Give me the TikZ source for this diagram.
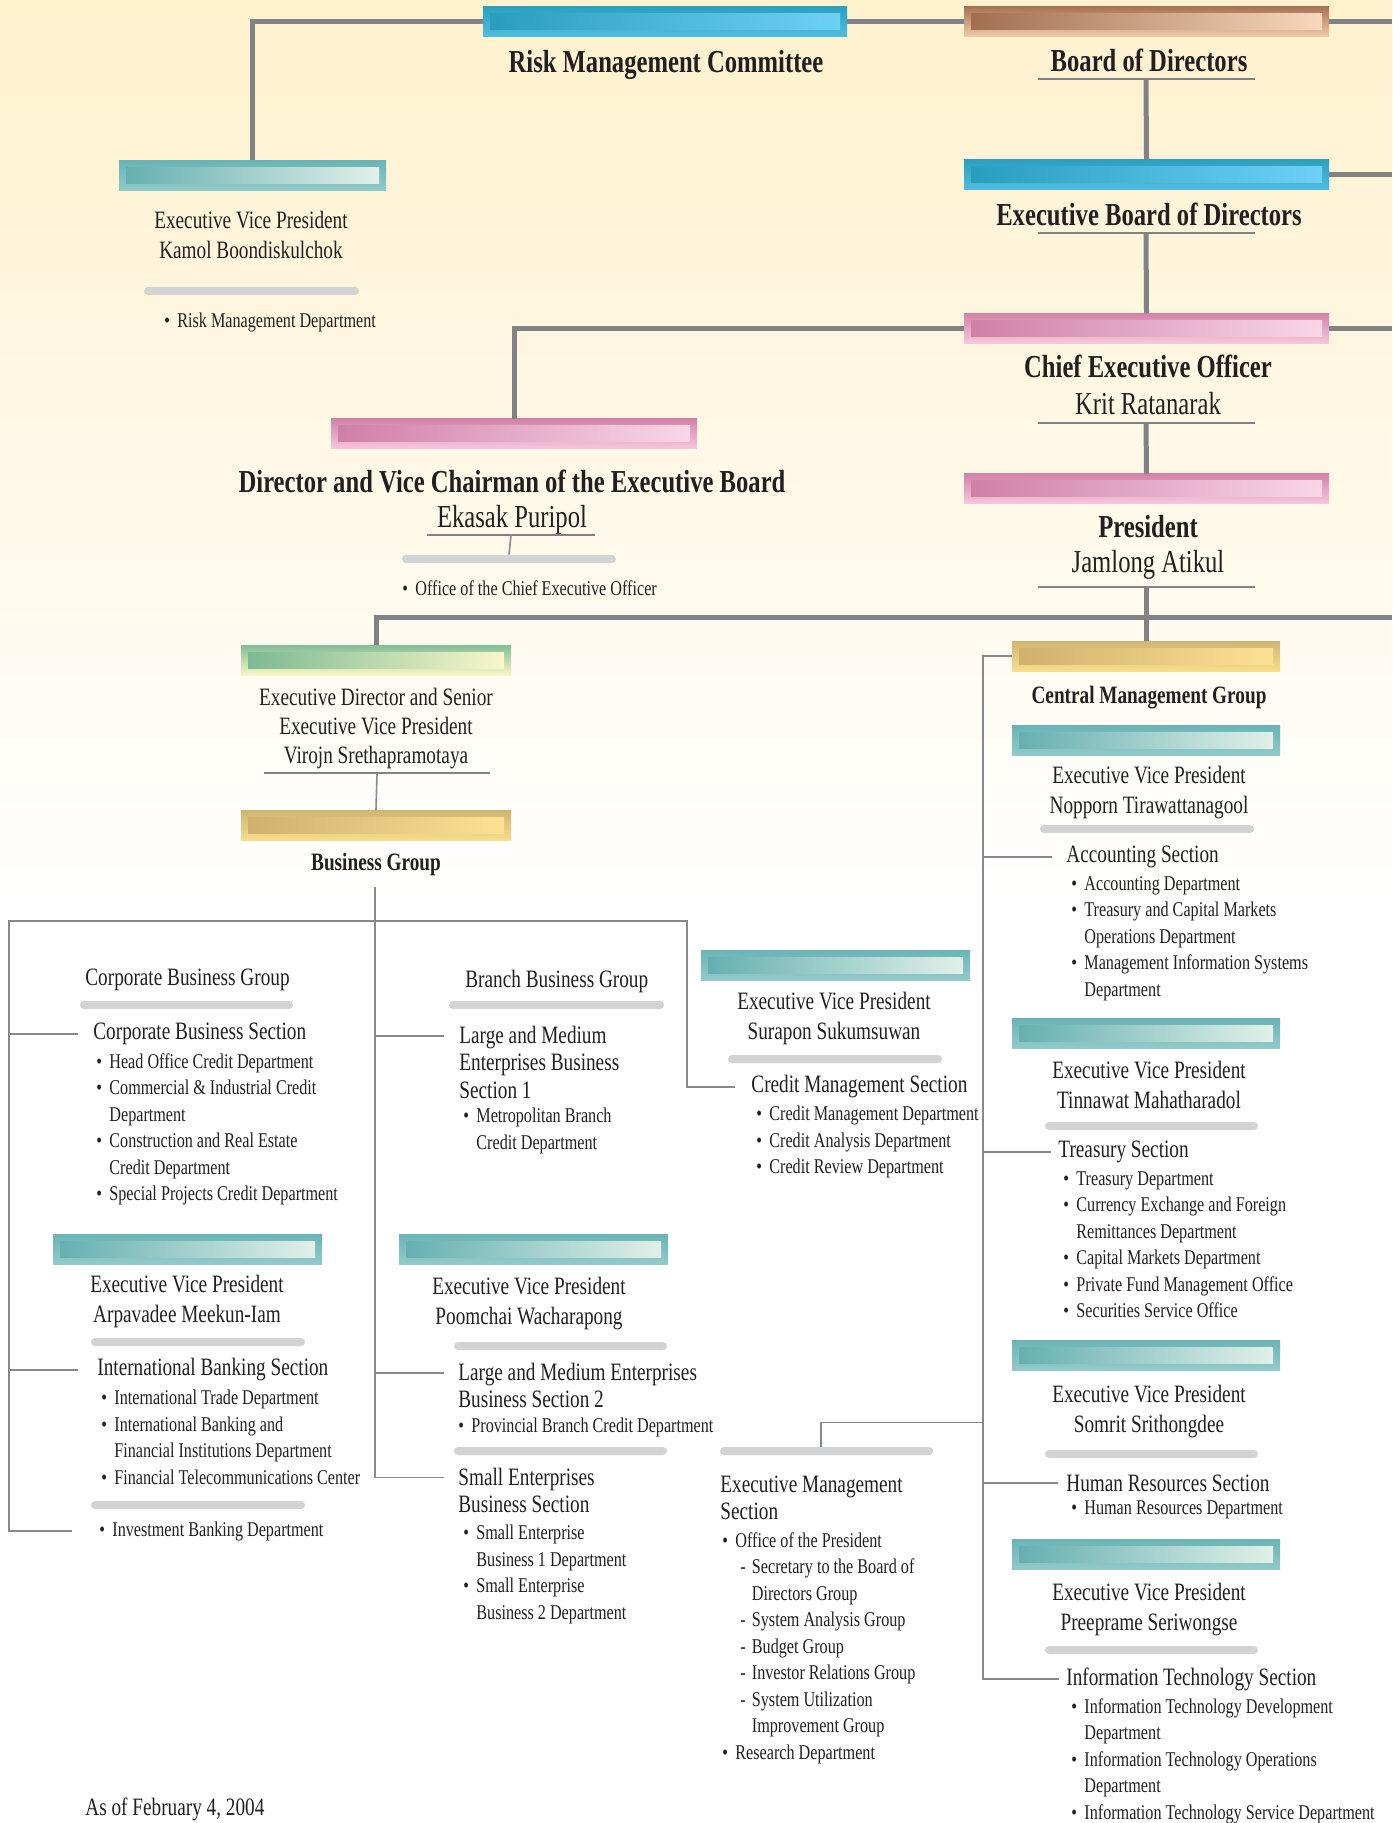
\documentclass[tikz,border=0pt]{standalone}
\usepackage{fontspec}
\setmainfont{Liberation Serif}[FakeStretch=0.77]
\definecolor{bgtop}{RGB}{254,241,205}
\definecolor{inkc}{RGB}{35,31,32}
\definecolor{lineg}{RGB}{128,130,133}
\definecolor{thing}{RGB}{135,137,140}
\definecolor{barg}{RGB}{209,211,212}
\definecolor{blueA}{RGB}{44,160,192}\definecolor{blueB}{RGB}{80,188,224}
\definecolor{blueC}{RGB}{40,156,190}\definecolor{blueD}{RGB}{110,210,246}
\definecolor{brA}{RGB}{168,116,84}\definecolor{brB}{RGB}{242,204,170}
\definecolor{brC}{RGB}{160,108,78}\definecolor{brD}{RGB}{248,218,190}
\definecolor{pkA}{RGB}{212,130,168}\definecolor{pkB}{RGB}{246,200,222}
\definecolor{pkC}{RGB}{206,126,164}\definecolor{pkD}{RGB}{249,216,232}
\definecolor{grA}{RGB}{130,190,150}\definecolor{grB}{RGB}{250,246,196}
\definecolor{grC}{RGB}{122,184,144}\definecolor{grD}{RGB}{252,248,204}
\definecolor{gdA}{RGB}{208,180,112}\definecolor{gdB}{RGB}{247,222,140}
\definecolor{gdC}{RGB}{206,176,108}\definecolor{gdD}{RGB}{254,226,148}
\definecolor{tlA}{RGB}{106,180,182}\definecolor{tlB}{RGB}{146,202,202}
\definecolor{tlC}{RGB}{98,174,176}\definecolor{tlD}{RGB}{228,242,233}
\newcommand{\orgbul}{\makebox[6.5pt][l]{\textbullet}}
\newcommand{\orgind}{\makebox[6.5pt]{}}
\newcommand{\orgdash}{\makebox[9pt]{}\makebox[5.75pt][l]{-}}
\newcommand{\orgdind}{\makebox[14.75pt]{}}
\tikzset{
  mainline/.style={draw=lineg, line width=2.5pt},
  thinline/.style={draw=thing, line width=0.8pt},
  colbar/.style n args={4}{inner sep=0pt, minimum height=15pt, top color=#1, bottom color=#2,
    path picture={\shade[left color=#3, right color=#4]
      ([xshift=3.5pt,yshift=-3.5pt]path picture bounding box.north west) rectangle
      ([xshift=-3.5pt,yshift=3.5pt]path picture bounding box.south east);}},
  bluebar/.style={colbar={blueA}{blueB}{blueC}{blueD}, minimum width=182pt},
  brownbar/.style={colbar={brA}{brB}{brC}{brD}, minimum width=182.5pt},
  pinkbar/.style={colbar={pkA}{pkB}{pkC}{pkD}, minimum width=182.5pt},
  greenbar/.style={colbar={grA}{grB}{grC}{grD}, minimum width=135pt},
  goldbar/.style={colbar={gdA}{gdB}{gdC}{gdD}, minimum width=135pt},
  tealbar/.style={colbar={tlA}{tlB}{tlC}{tlD}, minimum width=134.5pt},
  graybar/.style={fill=barg, rounded corners=2pt, minimum height=4pt, inner sep=0pt},
  uline/.style={fill=lineg, minimum height=1pt, minimum width=108.5pt, inner sep=0pt},
  txtbase/.style={inner sep=0pt, text=inkc},
  titletext/.style={txtbase, font=\fontsize{16}{19}\selectfont\bfseries},
  nametext/.style={txtbase, font=\fontsize{16}{19}\selectfont},
  grouptext/.style={txtbase, font=\fontsize{12.5}{15}\selectfont\bfseries},
  evptext/.style={txtbase, align=center, font=\fontsize{12.5}{15}\selectfont},
  sectext/.style={txtbase, align=left, font=\fontsize{12.5}{13.75}\selectfont},
  depttext/.style={txtbase, align=left, font=\fontsize{10.5}{13.25}\selectfont}
}
\begin{document}
\begin{tikzpicture}[x=0.5pt,y=-0.5pt]
  \useasboundingbox (0,0) rectangle (1392,1823);
  \fill[white] (0,0) rectangle (1392,1823);
  \shade[top color=bgtop, bottom color=white] (0,0) rectangle (1392,900);
  \coordinate (redge) at (1392,0);
  \coordinate (bus) at (1392,617);
  \coordinate (rail) at (983,0);
  \coordinate (bgtop) at (375,887);
  \coordinate (bgl) at (9,921);
  \coordinate (bgr) at (687,921);

  % board level
  \node[bluebar] (riskbar) at (665,22) {};
  \node[brownbar] (boardbar) at (1146.5,22) {};
  \node[titletext] (risktitle) at (666,65) {Risk Management Committee};
  \node[titletext] (boardtitle) at (1149,60) {Board of Directors};
  \node[uline] (boardul) at (1146,79) {};
  \node[bluebar, minimum width=182.5pt] (ebbar) at (1146.5,175) {};
  \node[titletext] (ebtitle) at (1149,214) {Executive Board of Directors};
  \node[uline] (ebul) at (1146,233) {};
  \node[pinkbar] (ceobar) at (1146.5,328.5) {};
  \node[titletext] (ceotitle) at (1148,366) {Chief Executive Officer};
  \node[nametext] (ceoname) at (1148,404) {Krit Ratanarak};
  \node[uline] (ceoul) at (1146,423) {};
  \node[pinkbar] (presbar) at (1146.5,489) {};
  \node[titletext] (prestitle) at (1148,527) {President};
  \node[nametext] (presname) at (1148,565) {Jamlong Atikul};
  \node[uline] (presul) at (1146,587) {};

  % risk management
  \node[tealbar, minimum width=133.5pt] (kamolbar) at (252.5,175.5) {};
  \node[evptext] (kamoltext) at (251,235) {Executive Vice President\\Kamol Boondiskulchok};
  \node[graybar, minimum width=107.5pt] (kamolgb) at (251.5,291) {};
  \node[depttext, anchor=west] (riskdept) at (164,322) {\orgbul Risk Management Department};

  % vice chairman
  \node[pinkbar, minimum width=183pt] (dvcbar) at (514,434) {};
  \node[titletext] (dvctitle) at (512,481) {Director and Vice Chairman of the Executive Board};
  \node[nametext] (dvcname) at (512,520) {Ekasak Puripol};
  \node[uline, minimum width=84pt] (dvcul) at (511,535) {};
  \node[graybar, minimum width=107pt] (dvcgb) at (509,559) {};
  \node[depttext, anchor=west] (ceooffice) at (402,588) {\orgbul Office of the Chief Executive Officer};

  % business group
  \node[greenbar] (edbar) at (376,660) {};
  \node[evptext, font=\fontsize{12.5}{14.5}\selectfont] (edtext) at (376,729)
    {Executive Director and Senior\\Executive Vice President\\Virojn Srethapramotaya};
  \node[uline, minimum width=113pt] (edul) at (377,773) {};
  \node[goldbar] (bgbar) at (376,825.5) {};
  \node[grouptext] (bgtitle) at (376,864) {Business Group};

  \node[sectext, anchor=west] (cbgroup) at (85,980) {Corporate Business Group};
  \node[graybar, minimum width=106.5pt] (cbgb) at (186.5,1005) {};
  \node[sectext, anchor=west] (cbsec) at (93,1034) {Corporate Business Section};
  \node[depttext, anchor=north west] (cbdept) at (96,1053)
    {\orgbul Head Office Credit Department\\\orgbul Commercial \& Industrial Credit\\\orgind Department\\
     \orgbul Construction and Real Estate\\\orgind Credit Department\\\orgbul Special Projects Credit Department};
  \node[tealbar] (arpbar) at (187.5,1249) {};
  \node[evptext] (arptext) at (187,1301) {Executive Vice President\\Arpavadee Meekun-Iam};
  \node[graybar, minimum width=107pt] (arpgb) at (198,1342) {};
  \node[sectext, anchor=west] (ibsec) at (97,1370) {International Banking Section};
  \node[depttext, anchor=north west] (ibdept) at (101,1390)
    {\orgbul International Trade Department\\\orgbul International Banking and\\
     \orgind Financial Institutions Department\\\orgbul Financial Telecommunications Center};
  \node[graybar, minimum width=107pt] (arpgb2) at (198,1505) {};
  \node[depttext, anchor=west] (invdept) at (99,1531) {\orgbul Investment Banking Department};

  \node[sectext, anchor=west] (bbgroup) at (465,981) {Branch Business Group};
  \node[graybar, minimum width=107.5pt] (bbgb) at (556.5,1005) {};
  \node[sectext, anchor=north west] (lmeone) at (459,1025.5)
    {Large and Medium\\Enterprises Business\\Section 1};
  \node[depttext, anchor=north west] (lmeonedept) at (463,1108)
    {\orgbul Metropolitan Branch\\\orgind Credit Department};
  \node[tealbar] (poombar) at (533.5,1249) {};
  \node[evptext] (poomtext) at (529,1304) {Executive Vice President\\Poomchai Wacharapong};
  \node[graybar, minimum width=106.5pt] (poomgb) at (560.5,1346) {};
  \node[sectext, anchor=north west] (lmetwo) at (458,1362.5)
    {Large and Medium Enterprises\\Business Section 2};
  \node[depttext, anchor=west] (lmetwodept) at (458,1427) {\orgbul Provincial Branch Credit Department};
  \node[graybar, minimum width=106.5pt] (poomgb2) at (560.5,1451) {};
  \node[sectext, anchor=north west] (smesec) at (458,1467.5)
    {Small Enterprises\\Business Section};
  \node[depttext, anchor=north west] (smedept) at (463,1525)
    {\orgbul Small Enterprise\\\orgind Business 1 Department\\\orgbul Small Enterprise\\\orgind Business 2 Department};

  \node[tealbar] (surbar) at (835.5,965) {};
  \node[evptext] (surtext) at (834,1018.5) {Executive Vice President\\Surapon Sukumsuwan};
  \node[graybar, minimum width=107pt] (surgb) at (835,1059) {};
  \node[sectext, anchor=west] (cmsec) at (751,1087) {Credit Management Section};
  \node[depttext, anchor=north west] (cmdept) at (756,1106)
    {\orgbul Credit Management Department\\\orgbul Credit Analysis Department\\\orgbul Credit Review Department};

  % executive management
  \node[graybar, minimum width=106.5pt] (emgb) at (826.5,1451) {};
  \node[sectext, anchor=north west] (emsec) at (720,1475.5) {Executive Management\\Section};
  \node[depttext, anchor=north west] (emdept) at (722,1532)
    {\orgbul Office of the President\\\orgdash Secretary to the Board of\\\orgdind Directors Group\\
     \orgdash System Analysis Group\\\orgdash Budget Group\\\orgdash Investor Relations Group\\
     \orgdash System Utilization\\\orgdind Improvement Group\\\orgbul Research Department};

  % central management group
  \node[goldbar, minimum width=134pt] (cmgbar) at (1146,656) {};
  \node[grouptext] (cmgtitle) at (1149,698) {Central Management Group};
  \node[tealbar, minimum width=134pt] (nopbar) at (1146,740.5) {};
  \node[evptext] (noptext) at (1149,792.5) {Executive Vice President\\Nopporn Tirawattanagool};
  \node[graybar, minimum width=107pt] (nopgb) at (1147,829) {};
  \node[sectext, anchor=west] (accsec) at (1066,857) {Accounting Section};
  \node[depttext, anchor=north west] (accdept) at (1071,876)
    {\orgbul Accounting Department\\\orgbul Treasury and Capital Markets\\\orgind Operations Department\\
     \orgbul Management Information Systems\\\orgind Department};
  \node[tealbar, minimum width=134pt] (tinbar) at (1146,1033.5) {};
  \node[evptext] (tintext) at (1149,1084.5) {Executive Vice President\\Tinnawat Mahatharadol};
  \node[graybar, minimum width=106.5pt] (tingb) at (1151.5,1126) {};
  \node[sectext, anchor=west] (trsec) at (1058,1152) {Treasury Section};
  \node[depttext, anchor=north west] (trdept) at (1063,1171)
    {\orgbul Treasury Department\\\orgbul Currency Exchange and Foreign\\\orgind Remittances Department\\
     \orgbul Capital Markets Department\\\orgbul Private Fund Management Office\\\orgbul Securities Service Office};
  \node[tealbar, minimum width=134pt] (sombar) at (1146,1355) {};
  \node[evptext] (somtext) at (1149,1411.5) {Executive Vice President\\Somrit Srithongdee};
  \node[graybar, minimum width=106.5pt] (somgb) at (1151.5,1454) {};
  \node[sectext, anchor=west] (hrsec) at (1066,1483) {Human Resources Section};
  \node[depttext, anchor=west] (hrdept) at (1071,1510) {\orgbul Human Resources Department};
  \node[tealbar, minimum width=134pt] (prebar) at (1146,1554.5) {};
  \node[evptext] (pretext) at (1149,1609.5) {Executive Vice President\\Preeprame Seriwongse};
  \node[graybar, minimum width=106.5pt] (pregb) at (1151.5,1650) {};
  \node[sectext, anchor=west] (itsec) at (1066,1679) {Information Technology Section};
  \node[depttext, anchor=north west] (itdept) at (1071,1698)
    {\orgbul Information Technology Development\\\orgind Department\\\orgbul Information Technology Operations\\
     \orgind Department\\\orgbul Information Technology Service Department};

  \node[sectext, anchor=base west] (asof) at (85,1815) {As of February 4, 2004};

  % main connectors
  \draw[mainline] (riskbar.west) -| (kamolbar.north);
  \draw[mainline] (riskbar.east) -- (boardbar.west);
  \draw[mainline] (boardbar.east) -- (boardbar.east -| redge);
  \draw[mainline] (boardul.center) -- (ebbar.north);
  \draw[mainline] (ebbar.east) -- (ebbar.east -| redge);
  \draw[mainline] (ebul.center) -- (ceobar.north);
  \draw[mainline] (ceobar.west) -| (dvcbar.north);
  \draw[mainline] (ceobar.east) -- (ceobar.east -| redge);
  \draw[mainline] (ceoul.center) -- (presbar.north);
  \draw[mainline] (presul.center) -- (cmgbar.north);
  \draw[mainline] (edbar.north) |- (bus);

  % thin connectors
  \draw[thinline] (dvcul.center) -- (dvcgb.north);
  \draw[thinline] (edul.center) -- (bgbar.north);
  \draw[thinline] (bgtop) |- ([xshift=-7pt,yshift=-5pt]smesec.north west);
  \draw[thinline] ([xshift=-13.5pt]invdept.west) -| (bgl) -- (bgr) |- ([xshift=-8pt]cmsec.west);
  \draw[thinline] (bgl |- cbsec.west) -- ([xshift=-7.5pt]cbsec.west);
  \draw[thinline] (bgl |- ibsec.west) -- ([xshift=-9.5pt]ibsec.west);
  \draw[thinline] (bgtop |- lmeone.north west) ++(0,10.5) -- ([xshift=-7.5pt,yshift=-5.25pt]lmeone.north west);
  \draw[thinline] (bgtop |- lmetwo.north west) ++(0,10.5) -- ([xshift=-7pt,yshift=-5.25pt]lmetwo.north west);
  \draw[thinline] (cmgbar.west) -- (cmgbar.west -| rail) |- ([xshift=-3.5pt]itsec.west);
  \draw[thinline] (rail |- accsec.west) -- ([xshift=-7pt]accsec.west);
  \draw[thinline] (rail |- trsec.west) -- ([xshift=-3.5pt]trsec.west);
  \draw[thinline] (rail |- hrsec.west) -- ([xshift=-4pt]hrsec.west);
  \draw[thinline] ([xshift=-2.75pt]emgb.north) |- ([yshift=12pt]emgb.north -| rail);
\end{tikzpicture}
\end{document}
